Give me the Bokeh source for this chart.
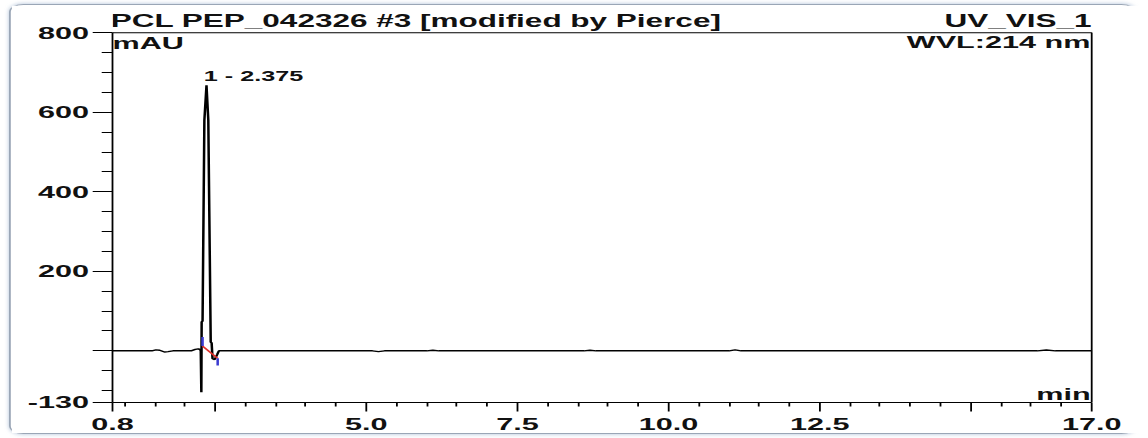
from bokeh.plotting import figure
from bokeh.models import Range1d, FixedTicker, Label
from bokeh.embed import file_html
from bokeh.resources import INLINE

# ---------------- data ----------------
time_min = [0.80, 1.45, 1.52, 1.58, 1.66, 1.72, 1.80, 2.10, 2.17, 2.22, 2.25,
            2.26, 2.27, 2.275, 2.29, 2.32, 2.355, 2.385, 2.425, 2.44, 2.455,
            2.49, 2.53, 2.56, 3.20, 5.10, 5.20, 5.30, 6.00, 6.10, 6.20, 8.60,
            8.70, 8.80, 11.00, 11.10, 11.20, 12.00, 16.10, 16.25, 16.40, 17.00]
signal_mau = [0.0, 0.0, 2.5, 1.5, -3.0, -2.0, 0.0, 0.0, 3.5, 5.0, 3.0,
              0.0, -104.0, 73.0, 75.0, 580.0, 668.0, 580.0, 22.0, 20.0, -20.0,
              -22.0, -10.0, 0.0, 0.0, 0.0, -2.0, 0.0, 0.0, 1.5, 0.0, 0.0,
              1.5, 0.0, 0.0, 2.5, 0.0, 0.0, 0.0, 2.0, 0.0, 0.0]

peak_number = 1
peak_rt = 2.375
peak_baseline_t = [2.29, 2.54]
peak_baseline_v = [12.0, -19.0]
delimiter_t = [2.29, 2.54]
delimiter_lo = [12.0, -37.0]
delimiter_hi = [35.0, -19.0]

x_ticks_major = [0.8, 2.5, 5.0, 7.5, 10.0, 12.5, 15.0, 17.0]
x_tick_labels = ["0.8", "", "5.0", "7.5", "10.0", "12.5", "", "17.0"]
x_ticks_minor = [1.0, 1.5, 2.0, 3.0, 3.5, 4.0, 4.5, 5.5, 6.0, 6.5, 7.0, 8.0,
                 8.5, 9.0, 9.5, 10.5, 11.0, 11.5, 12.0, 13.0, 13.5, 14.0, 14.5,
                 15.5, 16.0, 16.5]
y_ticks_major = [-130, 0, 200, 400, 600, 800]
y_tick_labels = ["-130", "", "200", "400", "600", "800"]
y_ticks_minor = [-100, -50, 50, 100, 150, 250, 300, 350, 450, 500, 550, 650,
                 700, 750]

title_left = "PCL PEP_042326 #3 [modified by Pierce]"
title_right = "UV_VIS_1"
y_unit = "mAU"
wavelength_text = "WVL:214 nm"
x_unit = "min"

# ---------------- styling / layout ----------------
FONT = "Liberation Sans"
STRETCH = 1.8          # the reference is drawn horizontally stretched
FRAME_W, FRAME_H = 545, 393
TOP_PAD_PX = 23.3      # room above the 800 line for the header texts
RIGHT_PAD_PX = 1.0     # keep the right box line inside the frame

x0, x1 = x_ticks_major[0], x_ticks_major[-1]
y0, y1 = y_ticks_major[0], y_ticks_major[-1]
x_end = x1 + (x1 - x0) * RIGHT_PAD_PX / (FRAME_W - RIGHT_PAD_PX)
y_end = y1 + (y1 - y0) * TOP_PAD_PX / (FRAME_H - TOP_PAD_PX)

p = figure(frame_width=FRAME_W, frame_height=FRAME_H,
           x_range=Range1d(x0, x_end), y_range=Range1d(y0, y_end),
           output_backend="svg", toolbar_location=None,
           min_border_left=56, min_border_right=23,
           min_border_top=4, min_border_bottom=0,
           background_fill_color="white", border_fill_color="white",
           outline_line_color=None)
p.grid.visible = False
p.title.visible = False

# box: top and right edges (left/bottom are the axes)
p.line([x0, x1, x1], [y1, y1, y0], line_color="black", line_width=1)

p.line(time_min, signal_mau, line_color="black", line_width=1.4)
p.line(peak_baseline_t, peak_baseline_v, line_color="#e0302a", line_width=1.2)
p.segment(x0=delimiter_t, y0=delimiter_lo, x1=delimiter_t, y1=delimiter_hi,
          line_color="#3b3bd0", line_width=1.4)

xa = p.xaxis[0]
xa.ticker = FixedTicker(ticks=x_ticks_major, minor_ticks=x_ticks_minor)
xa.major_label_overrides = dict(zip(x_ticks_major, x_tick_labels))
xa.bounds = (x0, x1)
xa.major_tick_out = 9
xa.major_tick_in = 0
xa.minor_tick_out = 4
xa.minor_tick_in = 0
xa.major_label_standoff = 7

ya = p.yaxis[0]
ya.ticker = FixedTicker(ticks=y_ticks_major, minor_ticks=y_ticks_minor)
ya.major_label_overrides = dict(zip(y_ticks_major, y_tick_labels))
ya.bounds = (y0, y1)
ya.major_tick_out = 11
ya.major_tick_in = 0
ya.minor_tick_out = 6
ya.minor_tick_in = 0
ya.major_label_standoff = 2

for ax in (xa, ya):
    ax.axis_line_color = "black"
    ax.major_tick_line_color = "black"
    ax.minor_tick_line_color = "black"
    ax.major_label_text_font = FONT
    ax.major_label_text_font_style = "bold"
    ax.major_label_text_font_size = "17px"
    ax.major_label_text_color = "#111111"

def add_label(text, x, y, align, x_off, y_off, size=17.0):
    # alphabetic baseline lands ~0.35 em low in this renderer; compensate
    p.add_layout(Label(x=x, y=y, text=text, text_align=align,
                       text_baseline="alphabetic", x_offset=x_off,
                       y_offset=y_off + 0.35 * size,
                       text_font=FONT, text_font_style="bold",
                       text_font_size=f"{size}px", text_color="#111111"))

add_label(title_left, x0, y1, "left", -1, 5.6, size=17.5)
add_label(title_right, x1, y1, "right", 0, 5.4, size=17.5)
add_label(y_unit, x0, y1, "left", 0, -16.4)
add_label(wavelength_text, x1, y1, "right", -0.7, -15.6)
add_label(x_unit, x1, y0, "right", -0.6, 2.5)
add_label(f"{peak_number} - {peak_rt:.3f}", peak_rt, max(signal_mau), "left",
          -2.2, 4.8, size=14.0)

p.styles = {
    "transform": f"scaleX({STRETCH})",
    "transform-origin": "0 0",
    "position": "relative",
    "left": "9px",
    "top": "4px",
    "border": "1px solid #9aa6b6",
    "border-radius": "8px",
    "box-shadow": "0 0 3px rgba(120,150,190,0.6)",
}

open("out.html", "w").write(file_html(p, INLINE))
